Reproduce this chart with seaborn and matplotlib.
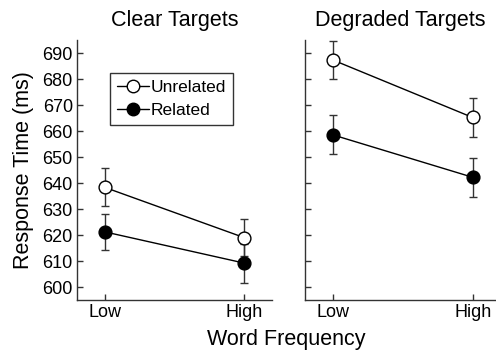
import matplotlib
matplotlib.use("Agg")
import matplotlib.pyplot as plt
import seaborn as sns
import pandas as pd
from matplotlib.lines import Line2D

# ---- data ----
freq_labels = ["Low", "High"]
panels = ["Clear Targets", "Degraded Targets"]
relatedness = ["Unrelated", "Related"]

clear_unrelated = [638.3, 619.0]
clear_unrelated_err = [7.3, 7.2]
clear_related = [621.2, 609.2]
clear_related_err = [7.0, 7.5]
degraded_unrelated = [687.3, 665.2]
degraded_unrelated_err = [7.4, 7.4]
degraded_related = [658.5, 642.2]
degraded_related_err = [7.5, 7.4]

yticks = [600, 610, 620, 630, 640, 650, 660, 670, 680, 690]

rows = []
series = {
    ("Clear Targets", "Unrelated"): (clear_unrelated, clear_unrelated_err),
    ("Clear Targets", "Related"): (clear_related, clear_related_err),
    ("Degraded Targets", "Unrelated"): (degraded_unrelated, degraded_unrelated_err),
    ("Degraded Targets", "Related"): (degraded_related, degraded_related_err),
}
for (panel, rel), (vals, errs) in series.items():
    for i, (v, e) in enumerate(zip(vals, errs)):
        rows.append(dict(panel=panel, rel=rel, x=i, freq=freq_labels[i], rt=v, err=e))
df = pd.DataFrame(rows)

# ---- style ----
sns.set_theme(style="ticks")
plt.rcParams["font.family"] = ["Liberation Sans", "DejaVu Sans"]
plt.rcParams["text.color"] = "black"
plt.rcParams["axes.labelcolor"] = "black"
plt.rcParams["xtick.labelcolor"] = "black"
plt.rcParams["ytick.labelcolor"] = "black"

fig = plt.figure(figsize=(4.96, 3.5), dpi=100)
W, H = 496, 350
ax1 = fig.add_axes([77 / W, 50 / H, 195 / W, 260 / H])
ax2 = fig.add_axes([305 / W, 50 / H, 190 / W, 260 / H])

face = {"Unrelated": "white", "Related": "black"}

for ax, panel in zip([ax1, ax2], panels):
    sub = df[df.panel == panel]
    for rel in relatedness:
        s = sub[sub.rel == rel]
        ax.errorbar(s.x, s.rt, yerr=s.err, fmt="none", ecolor="#333333",
                    elinewidth=1.0, capsize=2.7, capthick=1.0, zorder=1)
    sns.lineplot(data=sub, x="x", y="rt", hue="rel", hue_order=relatedness,
                 palette={"Unrelated": "black", "Related": "black"},
                 ax=ax, legend=False, linewidth=1.0, zorder=2)
    for rel in relatedness:
        s = sub[sub.rel == rel]
        sns.scatterplot(x=s.x, y=s.rt, ax=ax, color=face[rel], edgecolor="black",
                        linewidth=1.0, s=85, zorder=3, legend=False)
    ax.set_ylim(595, 695)
    ax.set_yticks(yticks)
    ax.set_xticks([0, 1])
    ax.set_xticklabels(freq_labels)
    ax.set_xlabel("")
    ax.set_ylabel("")
    ax.set_title(panel, fontsize=15.5, pad=10, color="black")
    for side in ["top", "right"]:
        ax.spines[side].set_visible(False)
    for side in ["left", "bottom"]:
        ax.spines[side].set_color("#333333")
        ax.spines[side].set_linewidth(1.0)
    ax.tick_params(direction="in", length=4, width=1.0, color="#333333",
                   labelsize=13, pad=3, labelcolor="black")

ax1.set_xlim(-0.2, 1.2)
ax2.set_xlim(-0.2, 1.16)
ax2.set_yticklabels([])
ax1.set_ylabel("Response Time (ms)", fontsize=15.5, labelpad=6, color="black")

handles = [
    Line2D([], [], color="black", lw=1.0, marker="o", markersize=9,
           markerfacecolor="white", markeredgecolor="black"),
    Line2D([], [], color="black", lw=1.0, marker="o", markersize=9,
           markerfacecolor="black", markeredgecolor="black"),
]
leg = ax1.legend(handles, relatedness, loc="upper left",
                 bbox_to_anchor=(0.17, 0.875), fontsize=12.5, frameon=True,
                 fancybox=False, edgecolor="black", handlelength=1.8,
                 handletextpad=0.1, borderpad=0.42, labelspacing=0.45,
                 borderaxespad=0)
leg.get_frame().set_linewidth(1.0)
for t in leg.get_texts():
    t.set_color("black")

fig.text(286 / W, 1 - 340 / H, "Word Frequency", ha="center", va="center",
         fontsize=15.5, color="black")

fig.savefig("out.png", dpi=100)
